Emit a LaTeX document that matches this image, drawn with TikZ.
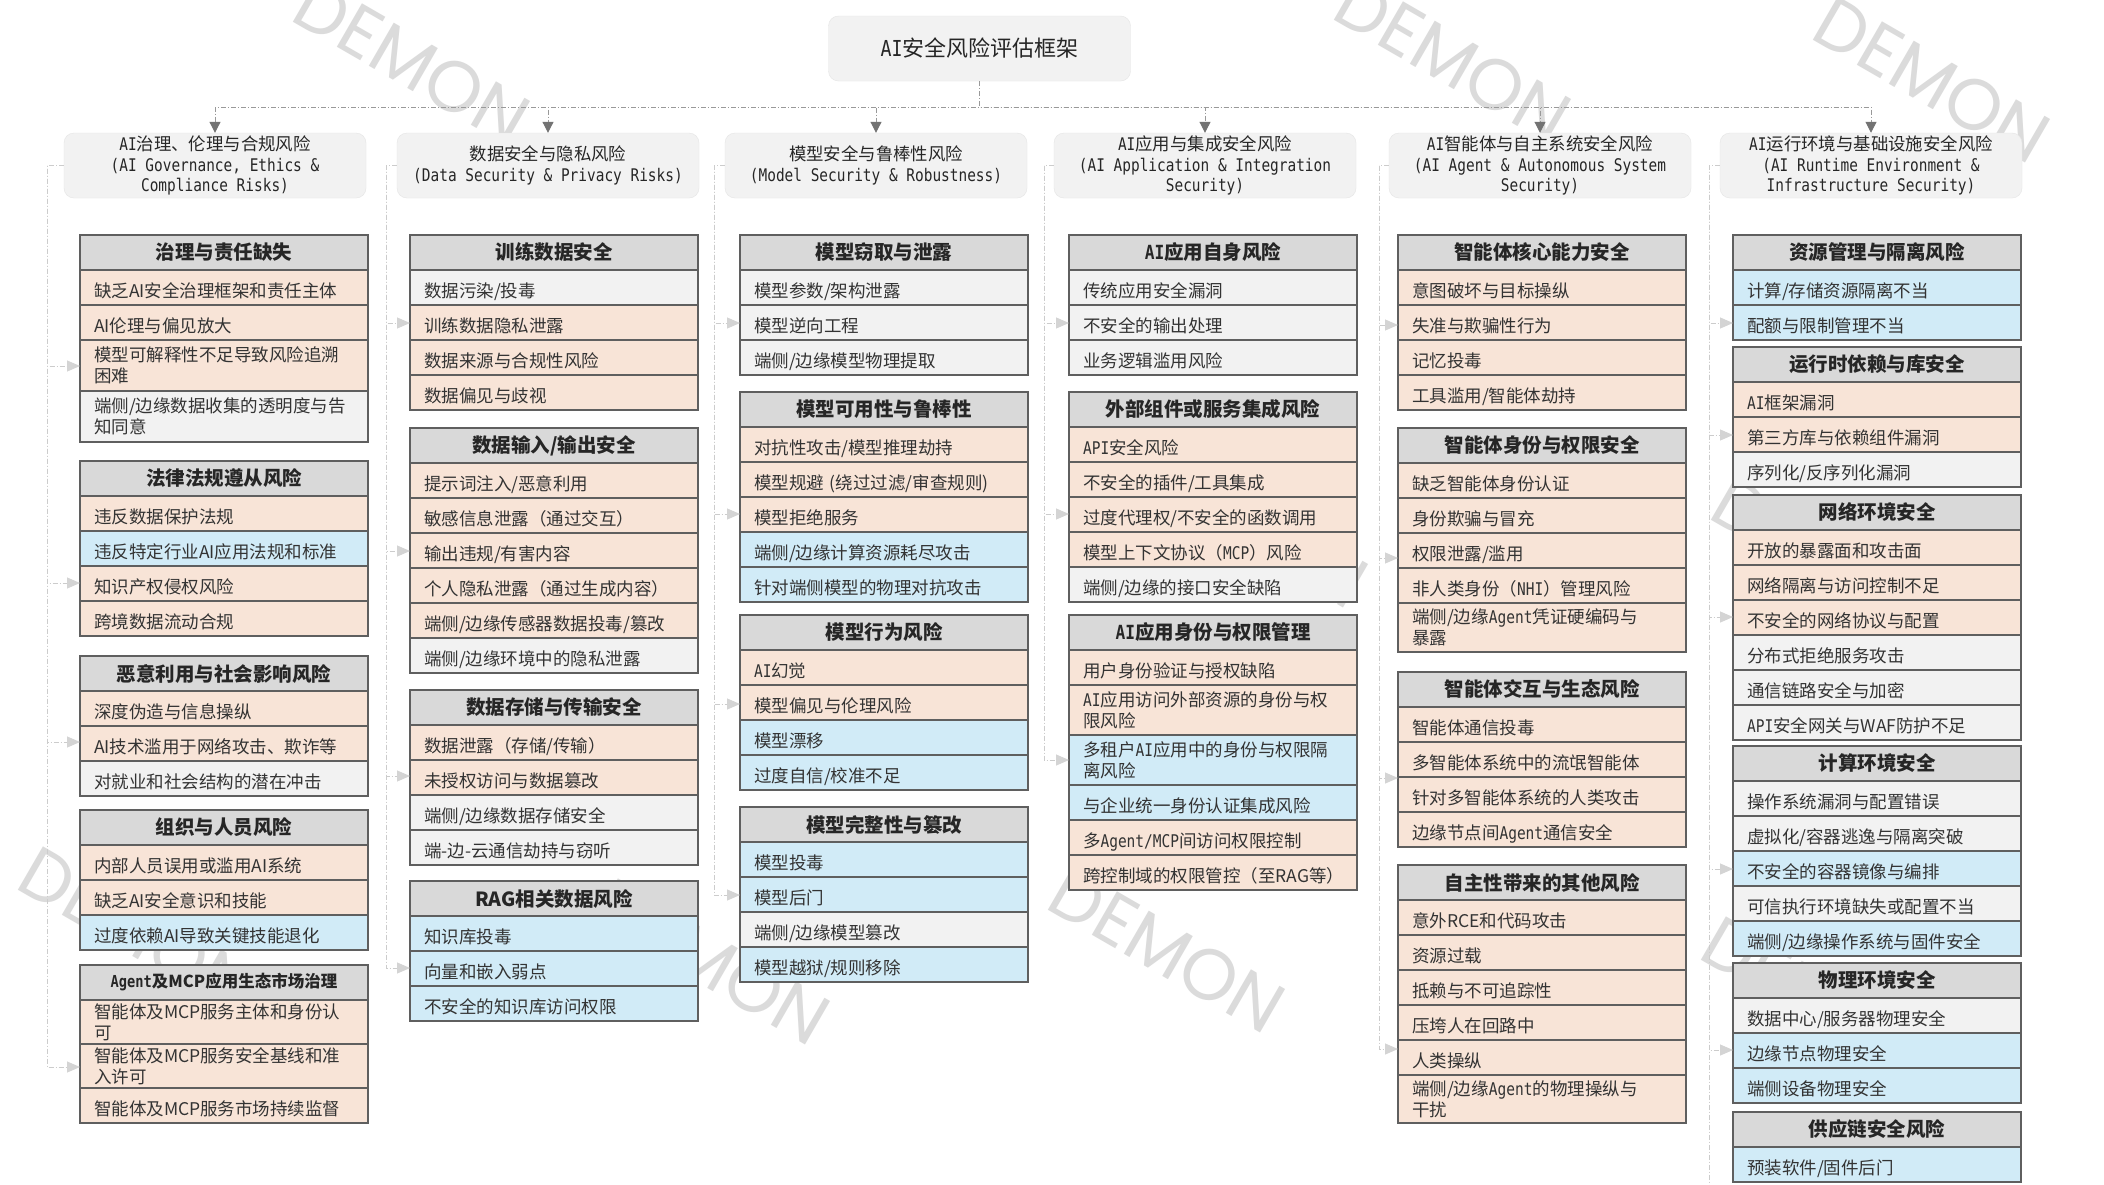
\documentclass[tikz,border=0pt]{standalone}
\usepackage{fontspec}
\setmainfont{Noto Sans CJK SC}
\setmonofont{DejaVu Sans Mono}[FakeStretch=0.83]
\newfontfamily\wmfont{Poppins}
\usetikzlibrary{arrows.meta,positioning}
\definecolor{peach}{HTML}{F8E4D7}
\definecolor{skyb}{HTML}{D1EBF7}
\definecolor{pale}{HTML}{F2F2F2}
\definecolor{band}{HTML}{D9D9D9}
\definecolor{edge}{HTML}{5F5F5F}
\newcommand\itmfont{\fontsize{17.5}{21}\selectfont}
\newcommand\grpfont{\fontsize{19.5}{23}\selectfont}
\newcommand\hdrfont{\fontsize{17.4}{20.5}\selectfont}
\newcommand\hdrtt{\ttfamily}
\newcommand\mlat[1]{{\ttfamily #1}}

\begin{document}
\begin{tikzpicture}[x=1pt, y=-1pt,
  hdr/.style={rectangle, rounded corners=10pt, draw=black!10, fill=pale, minimum width=302pt, minimum height=65pt, align=center, inner sep=2pt, font=\hdrfont, text=black!85},
  grp/.style={rectangle, draw=edge, line width=1.2pt, fill=band, minimum width=288pt, minimum height=35pt, inner sep=0pt, outer sep=0pt, font=\grpfont\bfseries, text=black!85},
  row/.style={rectangle, draw=edge, line width=1.2pt, text width=260pt, inner xsep=14pt, inner ysep=0pt, minimum height=35pt, outer sep=0pt, align=left, font=\itmfont, text=black!80, text height=20pt, text depth=0pt},
  two/.style={text height={}, text depth={}, minimum height=#1},
  pk/.style={row, fill=peach},
  bl/.style={row, fill=skyb},
  gy/.style={row, fill=pale},
  tarr/.style={draw=black!40, line width=1pt, dash pattern=on 5pt off 2pt on 1pt off 2pt, -{Triangle[length=11pt, width=11pt, color=black!55]}},
  link/.style={draw=black!20, line width=1pt, dash pattern=on 5pt off 2pt on 1pt off 2pt, -{Triangle[length=13pt, width=11pt, color=black!17]}},
  wm/.style={font=\wmfont\fontsize{72}{72}\selectfont, text=black!14, rotate=-30}
]
\useasboundingbox (0,0) rectangle (2104,1184);
\clip (0,0) rectangle (2104,1184);
\fill[white] (0,0) rectangle (2104,1184);

% watermark
\node[wm] (w1) at (412,62) {DEMON};
\node[wm] (w3) at (1453,60) {DEMON};
\node[wm] (w4) at (1932,80) {DEMON};
\node[wm] (w5) at (1250,525) {DEMON};
\node[wm] (w6) at (1167,950) {DEMON};
\node[wm] (w7) at (137,930) {DEMON};
\node[wm] (w8) at (712,962) {DEMON};
\node[wm] (w9) at (1820,1000) {DEMON};
\node[wm] (w10) at (1830,560) {DEMON};

% title and top level
\node[hdr, font=\fontsize{22}{26}\selectfont] (top) at (979.5,48.5) {\mlat{AI}安全风险评估框架};

\node[hdr] (h1) at (215,165.5) {{\hdrtt AI}治理、伦理与合规风险\\{\hdrtt (AI Governance, Ethics \&}\\{\hdrtt Compliance Risks)}};
\node[hdr] (h2) at (548,165.5) {数据安全与隐私风险\\{\hdrtt (Data Security \& Privacy Risks)}};
\node[hdr] (h3) at (876,165.5) {模型安全与鲁棒性风险\\{\hdrtt (Model Security \& Robustness)}};
\node[hdr] (h4) at (1205,165.5) {{\hdrtt AI}应用与集成安全风险\\{\hdrtt (AI Application \& Integration}\\{\hdrtt Security)}};
\node[hdr] (h5) at (1540,165.5) {{\hdrtt AI}智能体与自主系统安全风险\\{\hdrtt (AI Agent \& Autonomous System}\\{\hdrtt Security)}};
\node[hdr] (h6) at (1871,165.5) {{\hdrtt AI}运行环境与基础设施安全风险\\{\hdrtt (AI Runtime Environment \&}\\{\hdrtt Infrastructure Security)}};

\foreach \h in {h1,h2,h3,h4,h5,h6}
  \draw[tarr] (top.south) -- ++(0,26) -| (\h.north);

% column 1
\node[grp, anchor=north west] (g11) at (80,235) {治理与责任缺失};
\node[pk, below=0pt of g11] (g11a) {缺乏AI安全治理框架和责任主体};
\node[pk, below=0pt of g11a] (g11b) {AI伦理与偏见放大};
\node[pk, two=51pt, below=0pt of g11b] (g11c) {模型可解释性不足导致风险追溯\\困难};
\node[gy, two=51pt, below=0pt of g11c] (g11d) {端侧/边缘数据收集的透明度与告\\知同意};

\node[grp, anchor=north west] (g12) at (80,461) {法律法规遵从风险};
\node[pk, below=0pt of g12] (g12a) {违反数据保护法规};
\node[bl, below=0pt of g12a] (g12b) {违反特定行业AI应用法规和标准};
\node[pk, below=0pt of g12b] (g12c) {知识产权侵权风险};
\node[pk, below=0pt of g12c] (g12d) {跨境数据流动合规};

\node[grp, anchor=north west] (g13) at (80,656) {恶意利用与社会影响风险};
\node[pk, below=0pt of g13] (g13a) {深度伪造与信息操纵};
\node[pk, below=0pt of g13a] (g13b) {AI技术滥用于网络攻击、欺诈等};
\node[gy, below=0pt of g13b] (g13c) {对就业和社会结构的潜在冲击};

\node[grp, anchor=north west] (g14) at (80,810) {组织与人员风险};
\node[pk, below=0pt of g14] (g14a) {内部人员误用或滥用AI系统};
\node[pk, below=0pt of g14a] (g14b) {缺乏AI安全意识和技能};
\node[bl, below=0pt of g14b] (g14c) {过度依赖AI导致关键技能退化};

\node[grp, anchor=north west, font=\fontsize{16.5}{20}\selectfont\bfseries] (g15) at (80,965) {\mlat{Agent}及MCP应用生态市场治理};
\node[pk, two=44pt, below=0pt of g15] (g15a) {智能体及MCP服务主体和身份认\\可};
\node[pk, two=44pt, below=0pt of g15a] (g15b) {智能体及MCP服务安全基线和准\\入许可};
\node[pk, below=0pt of g15b] (g15c) {智能体及MCP服务市场持续监督};

% column 2
\node[grp, anchor=north west] (g21) at (410,235) {训练数据安全};
\node[gy, below=0pt of g21] (g21a) {数据污染/投毒};
\node[pk, below=0pt of g21a] (g21b) {训练数据隐私泄露};
\node[pk, below=0pt of g21b] (g21c) {数据来源与合规性风险};
\node[pk, below=0pt of g21c] (g21d) {数据偏见与歧视};

\node[grp, anchor=north west] (g22) at (410,428) {数据输入/输出安全};
\node[pk, below=0pt of g22] (g22a) {提示词注入/恶意利用};
\node[pk, below=0pt of g22a] (g22b) {敏感信息泄露（通过交互）};
\node[pk, below=0pt of g22b] (g22c) {输出违规/有害内容};
\node[pk, below=0pt of g22c] (g22d) {个人隐私泄露（通过生成内容）};
\node[pk, below=0pt of g22d] (g22e) {端侧/边缘传感器数据投毒/篡改};
\node[gy, below=0pt of g22e] (g22f) {端侧/边缘环境中的隐私泄露};

\node[grp, anchor=north west] (g23) at (410,690) {数据存储与传输安全};
\node[pk, below=0pt of g23] (g23a) {数据泄露（存储/传输）};
\node[pk, below=0pt of g23a] (g23b) {未授权访问与数据篡改};
\node[gy, below=0pt of g23b] (g23c) {端侧/边缘数据存储安全};
\node[gy, below=0pt of g23c] (g23d) {端-边-云通信劫持与窃听};

\node[grp, anchor=north west] (g24) at (410,881) {RAG相关数据风险};
\node[bl, below=0pt of g24] (g24a) {知识库投毒};
\node[bl, below=0pt of g24a] (g24b) {向量和嵌入弱点};
\node[bl, below=0pt of g24b] (g24c) {不安全的知识库访问权限};

% column 3
\node[grp, anchor=north west] (g31) at (740,235) {模型窃取与泄露};
\node[gy, below=0pt of g31] (g31a) {模型参数/架构泄露};
\node[gy, below=0pt of g31a] (g31b) {模型逆向工程};
\node[gy, below=0pt of g31b] (g31c) {端侧/边缘模型物理提取};

\node[grp, anchor=north west] (g32) at (740,392) {模型可用性与鲁棒性};
\node[pk, below=0pt of g32] (g32a) {对抗性攻击/模型推理劫持};
\node[pk, below=0pt of g32a] (g32b) {模型规避 (绕过过滤/审查规则)};
\node[pk, below=0pt of g32b] (g32c) {模型拒绝服务};
\node[bl, below=0pt of g32c] (g32d) {端侧/边缘计算资源耗尽攻击};
\node[bl, below=0pt of g32d] (g32e) {针对端侧模型的物理对抗攻击};

\node[grp, anchor=north west] (g33) at (740,615) {模型行为风险};
\node[pk, below=0pt of g33] (g33a) {\mlat{AI}幻觉};
\node[pk, below=0pt of g33a] (g33b) {模型偏见与伦理风险};
\node[bl, below=0pt of g33b] (g33c) {模型漂移};
\node[bl, below=0pt of g33c] (g33d) {过度自信/校准不足};

\node[grp, anchor=north west] (g34) at (740,807) {模型完整性与篡改};
\node[bl, below=0pt of g34] (g34a) {模型投毒};
\node[bl, below=0pt of g34a] (g34b) {模型后门};
\node[gy, below=0pt of g34b] (g34c) {端侧/边缘模型篡改};
\node[bl, below=0pt of g34c] (g34d) {模型越狱/规则移除};

% column 4
\node[grp, anchor=north west] (g41) at (1069,235) {\mlat{AI}应用自身风险};
\node[gy, below=0pt of g41] (g41a) {传统应用安全漏洞};
\node[gy, below=0pt of g41a] (g41b) {不安全的输出处理};
\node[gy, below=0pt of g41b] (g41c) {业务逻辑滥用风险};

\node[grp, anchor=north west] (g42) at (1069,392) {外部组件或服务集成风险};
\node[pk, below=0pt of g42] (g42a) {\mlat{API}安全风险};
\node[pk, below=0pt of g42a] (g42b) {不安全的插件/工具集成};
\node[pk, below=0pt of g42b] (g42c) {过度代理权/不安全的函数调用};
\node[pk, below=0pt of g42c] (g42d) {模型上下文协议（\mlat{MCP}）风险};
\node[gy, below=0pt of g42d] (g42e) {端侧/边缘的接口安全缺陷};

\node[grp, anchor=north west] (g43) at (1069,615) {\mlat{AI}应用身份与权限管理};
\node[pk, below=0pt of g43] (g43a) {用户身份验证与授权缺陷};
\node[pk, two=50pt, below=0pt of g43a] (g43b) {\mlat{AI}应用访问外部资源的身份与权\\限风险};
\node[bl, two=50pt, below=0pt of g43b] (g43c) {多租户\mlat{AI}应用中的身份与权限隔\\离风险};
\node[bl, below=0pt of g43c] (g43d) {与企业统一身份认证集成风险};
\node[pk, below=0pt of g43d] (g43e) {多\mlat{Agent/MCP}间访问权限控制};
\node[pk, below=0pt of g43e] (g43f) {跨控制域的权限管控（至RAG等）};

% column 5
\node[grp, anchor=north west] (g51) at (1398,235) {智能体核心能力安全};
\node[pk, below=0pt of g51] (g51a) {意图破坏与目标操纵};
\node[pk, below=0pt of g51a] (g51b) {失准与欺骗性行为};
\node[pk, below=0pt of g51b] (g51c) {记忆投毒};
\node[pk, below=0pt of g51c] (g51d) {工具滥用/智能体劫持};

\node[grp, anchor=north west] (g52) at (1398,428) {智能体身份与权限安全};
\node[pk, below=0pt of g52] (g52a) {缺乏智能体身份认证};
\node[pk, below=0pt of g52a] (g52b) {身份欺骗与冒充};
\node[pk, below=0pt of g52b] (g52c) {权限泄露/滥用};
\node[pk, below=0pt of g52c] (g52d) {非人类身份（\mlat{NHI}）管理风险};
\node[pk, two=49pt, below=0pt of g52d] (g52e) {端侧/边缘\mlat{Agent}凭证硬编码与\\暴露};

\node[grp, anchor=north west] (g53) at (1398,672) {智能体交互与生态风险};
\node[pk, below=0pt of g53] (g53a) {智能体通信投毒};
\node[pk, below=0pt of g53a] (g53b) {多智能体系统中的流氓智能体};
\node[pk, below=0pt of g53b] (g53c) {针对多智能体系统的人类攻击};
\node[pk, below=0pt of g53c] (g53d) {边缘节点间\mlat{Agent}通信安全};

\node[grp, anchor=north west] (g54) at (1398,865) {自主性带来的其他风险};
\node[pk, below=0pt of g54] (g54a) {意外RCE和代码攻击};
\node[pk, below=0pt of g54a] (g54b) {资源过载};
\node[pk, below=0pt of g54b] (g54c) {抵赖与不可追踪性};
\node[pk, below=0pt of g54c] (g54d) {压垮人在回路中};
\node[pk, below=0pt of g54d] (g54e) {人类操纵};
\node[pk, two=48pt, below=0pt of g54e] (g54f) {端侧/边缘\mlat{Agent}的物理操纵与\\干扰};

% column 6
\node[grp, anchor=north west] (g61) at (1733,235) {资源管理与隔离风险};
\node[bl, below=0pt of g61] (g61a) {计算/存储资源隔离不当};
\node[bl, below=0pt of g61a] (g61b) {配额与限制管理不当};

\node[grp, anchor=north west] (g62) at (1733,347) {运行时依赖与库安全};
\node[pk, below=0pt of g62] (g62a) {\mlat{AI}框架漏洞};
\node[pk, below=0pt of g62a] (g62b) {第三方库与依赖组件漏洞};
\node[gy, below=0pt of g62b] (g62c) {序列化/反序列化漏洞};

\node[grp, anchor=north west] (g63) at (1733,495) {网络环境安全};
\node[pk, below=0pt of g63] (g63a) {开放的暴露面和攻击面};
\node[pk, below=0pt of g63a] (g63b) {网络隔离与访问控制不足};
\node[pk, below=0pt of g63b] (g63c) {不安全的网络协议与配置};
\node[gy, below=0pt of g63c] (g63d) {分布式拒绝服务攻击};
\node[gy, below=0pt of g63d] (g63e) {通信链路安全与加密};
\node[gy, below=0pt of g63e] (g63f) {\mlat{API}安全网关与WAF防护不足};

\node[grp, anchor=north west] (g64) at (1733,746) {计算环境安全};
\node[gy, below=0pt of g64] (g64a) {操作系统漏洞与配置错误};
\node[gy, below=0pt of g64a] (g64b) {虚拟化/容器逃逸与隔离突破};
\node[bl, below=0pt of g64b] (g64c) {不安全的容器镜像与编排};
\node[gy, below=0pt of g64c] (g64d) {可信执行环境缺失或配置不当};
\node[bl, below=0pt of g64d] (g64e) {端侧/边缘操作系统与固件安全};

\node[grp, anchor=north west] (g65) at (1733,963) {物理环境安全};
\node[gy, below=0pt of g65] (g65a) {数据中心/服务器物理安全};
\node[bl, below=0pt of g65a] (g65b) {边缘节点物理安全};
\node[bl, below=0pt of g65b] (g65c) {端侧设备物理安全};

\node[grp, anchor=north west] (g66) at (1733,1112) {供应链安全风险};
\node[bl, below=0pt of g66] (g66a) {预装软件/固件后门};

% dashed links from each column header to its groups
\coordinate (l1) at (47,0);
\coordinate (l2) at (386,0);
\coordinate (l3) at (714,0);
\coordinate (l4) at (1044,0);
\coordinate (l5) at (1379,0);
\coordinate (l6) at (1709,0);
\foreach \g/\y in {g11/366, g12/583, g13/742, g15/1067}
  \draw[link] (h1.west) -| (l1 |- 0,\y) -- (\g.west |- 0,\y);
\foreach \g/\y in {g21/323, g22/551, g23/776, g24/968}
  \draw[link] (h2.west) -| (l2 |- 0,\y) -- (\g.west |- 0,\y);
\foreach \g/\y in {g31/323, g32/514, g33/704, g34/895}
  \draw[link] (h3.west) -| (l3 |- 0,\y) -- (\g.west |- 0,\y);
\foreach \g/\y in {g41/323, g42/514, g43/760}
  \draw[link] (h4.west) -| (l4 |- 0,\y) -- (\g.west |- 0,\y);
\foreach \g/\y in {g51/325, g52/558, g53/778, g54/1049}
  \draw[link] (h5.west) -| (l5 |- 0,\y) -- (\g.west |- 0,\y);
\foreach \g/\y in {g61/323, g62/435, g63/617, g64/869, g65/1050, g66/1200}
  \draw[link] (h6.west) -| (l6 |- 0,\y) -- (\g.west |- 0,\y);
\end{tikzpicture}
\end{document}
